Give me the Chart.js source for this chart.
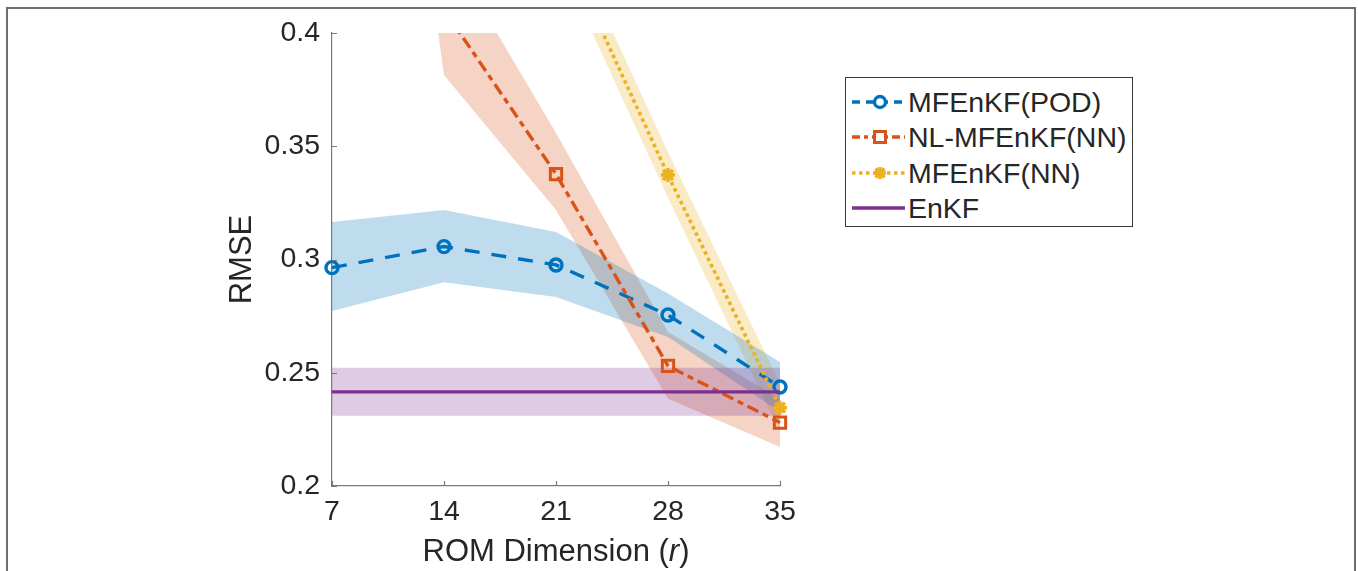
<!DOCTYPE html>
<html>
<head>
<meta charset="utf-8">
<script src="https://cdn.jsdelivr.net/npm/chart.js@4.4.1/dist/chart.umd.min.js"></script>
<style>
  html, body { margin: 0; padding: 0; background: #fff; overflow: hidden; }
  body { width: 1358px; height: 571px; position: relative; font-family: "Liberation Sans", Arial, Helvetica, sans-serif; }
  #frame { position: absolute; left: 6px; top: 7px; width: 1350px; height: 600px; box-sizing: border-box; border: 2px solid #6e6e6e; border-bottom: none; }
  #wrap { position: absolute; left: 0; top: 0; width: 1358px; height: 571px; }
  #xtitle { position: absolute; left: 556px; top: 551px; transform: translate(-50%, -50%); font-size: 31px; color: #262626; white-space: nowrap; }
  #legend { position: absolute; left: 845px; top: 77px; width: 288px; height: 150px; box-sizing: border-box; border: 1px solid #3a3a3a; background: #fff; }
  .row { position: absolute; left: 0; height: 36px; display: flex; align-items: center; }
  .row svg { position: absolute; left: 3px; top: 0; }
  .row span { position: absolute; left: 62px; font-size: 28.5px; color: #262626; white-space: nowrap; line-height: 36px; top: 0; }
</style>
</head>
<body>
<div id="frame"></div>
<div id="wrap"><canvas id="c" width="1358" height="571"></canvas></div>
<div id="xtitle">ROM Dimension (<i>r</i>)</div>
<div id="legend"></div>
<script>
// ---- data ----
const ranks = [7, 14, 21, 28, 35];
const yTicks = [0.2, 0.25, 0.3, 0.35, 0.4];
const seriesNames = ['MFEnKF(POD)', 'NL-MFEnKF(NN)', 'MFEnKF(NN)', 'EnKF'];

const podMean  = [0.2964, 0.3057, 0.2976, 0.2755, 0.2437];
const podUpper = [0.3166, 0.3219, 0.3121, 0.2850, 0.2547];
const podLower = [0.2773, 0.2900, 0.2834, 0.2658, 0.2327];

const nlMean  = [0.800, 0.4103, 0.3377, 0.2530, 0.2280];
const nlUpper = [0.860, 0.4396, 0.3558, 0.2680, 0.2385];
const nlLower = [0.738, 0.3815, 0.3219, 0.2385, 0.2172];

const nnMean  = [0.700, 0.560, 0.445, 0.3373, 0.2346];
const nnUpper = [0.710, 0.570, 0.455, 0.3473, 0.2452];
const nnLower = [0.690, 0.550, 0.435, 0.3273, 0.2236];

const enkfMean  = [0.2416, 0.2416, 0.2416, 0.2416, 0.2416];
const enkfUpper = [0.2522, 0.2522, 0.2522, 0.2522, 0.2522];
const enkfLower = [0.2310, 0.2310, 0.2310, 0.2310, 0.2310];

// ---- styles ----
const C_BLUE = '#0072BD', C_ORANGE = '#D95319', C_YELLOW = '#EDB120', C_PURPLE = '#7E2F8E';
const F_BLUE = 'rgba(0,114,189,0.25)', F_ORANGE = 'rgba(217,83,25,0.25)', F_YELLOW = 'rgba(237,177,32,0.25)', F_PURPLE = 'rgba(126,47,142,0.25)';
const FONT = '"Liberation Sans", Arial, Helvetica, sans-serif';
const TXT = '#262626';

const pts = arr => arr.map((v, i) => ({x: ranks[i], y: v}));

function band(upper, lower, fillColor) {
  return [
    { data: pts(upper), borderWidth: 0, borderColor: 'rgba(0,0,0,0)', backgroundColor: fillColor, fill: '+1', pointRadius: 0, order: 10, tension: 0 },
    { data: pts(lower), borderWidth: 0, borderColor: 'rgba(0,0,0,0)', backgroundColor: 'rgba(0,0,0,0)', fill: false, pointRadius: 0, order: 10, tension: 0 }
  ];
}
const lineClip = {left: 20, right: 20, top: 0, bottom: 20};

const datasets = [
  ...band(enkfUpper, enkfLower, F_PURPLE),
  ...band(podUpper, podLower, F_BLUE),
  ...band(nlUpper, nlLower, F_ORANGE),
  ...band(nnUpper, nnLower, F_YELLOW),
  { label: seriesNames[3], data: pts(enkfMean), borderColor: C_PURPLE, borderWidth: 3.2, pointRadius: 0, fill: false, order: 1, clip: lineClip },
  { label: seriesNames[2], data: pts(nnMean), borderColor: C_YELLOW, borderWidth: 3.6, borderDash: [3.6, 3.4], pointStyle: 'star', pointRadius: 7, pointBorderWidth: 3.5, pointBorderColor: C_YELLOW, pointBackgroundColor: C_YELLOW, fill: false, order: 1, clip: lineClip },
  { label: seriesNames[1], data: pts(nlMean), borderColor: C_ORANGE, borderWidth: 3.4, borderDash: [12, 5, 6, 5], pointStyle: 'rect', pointRadius: 8, pointBorderWidth: 3, pointBorderColor: C_ORANGE, pointBackgroundColor: 'rgba(0,0,0,0)', fill: false, order: 1, clip: lineClip },
  { label: seriesNames[0], data: pts(podMean), borderColor: C_BLUE, borderWidth: 3.4, borderDash: [15, 12], pointStyle: 'circle', pointRadius: 6, pointBorderWidth: 3.4, pointBorderColor: C_BLUE, pointBackgroundColor: 'rgba(0,0,0,0)', fill: false, order: 1, clip: lineClip }
];

// inward tick marks drawn from the library's scales
const inwardTicks = {
  id: 'inwardTicks',
  afterDatasetsDraw(chart) {
    const {ctx, chartArea, scales} = chart;
    ctx.save();
    ctx.strokeStyle = '#7a7a7a';
    ctx.lineWidth = 1.2;
    ctx.beginPath();
    scales.y.ticks.forEach(t => {
      const py = Math.round(scales.y.getPixelForValue(t.value)) + 0.5;
      ctx.moveTo(chartArea.left, py); ctx.lineTo(chartArea.left + 5, py);
    });
    scales.x.ticks.forEach(t => {
      const px = Math.round(scales.x.getPixelForValue(t.value)) + 0.5;
      ctx.moveTo(px, chartArea.bottom); ctx.lineTo(px, chartArea.bottom - 5);
    });
    ctx.stroke();
    ctx.restore();
  }
};

new Chart(document.getElementById('c'), {
  type: 'line',
  data: { datasets },
  options: {
    responsive: false,
    animation: false,
    events: [],
    layout: { padding: { left: 0, right: 578, top: 33, bottom: 0 } },
    plugins: { legend: { display: false }, tooltip: { enabled: false } },
    scales: {
      x: {
        type: 'linear', min: 7, max: 35,
        afterFit(s) { s.height = 85; },
        afterBuildTicks(s) { s.ticks = ranks.map(v => ({value: v})); },
        grid: { display: false, drawTicks: false },
        border: { display: true, color: '#7a7a7a', width: 1.2 },
        ticks: { padding: 9, color: TXT, font: { family: FONT, size: 28.5 }, maxRotation: 0, autoSkip: false, callback: v => String(v) }
      },
      y: {
        type: 'linear', min: 0.2, max: 0.4,
        afterFit(s) { s.width = 332; },
        afterBuildTicks(s) { s.ticks = yTicks.map(v => ({value: v})); },
        grid: { display: false, drawTicks: false },
        border: { display: true, color: '#7a7a7a', width: 1.2 },
        ticks: { padding: 12, color: TXT, font: { family: FONT, size: 28.5 }, autoSkip: false, callback: v => String(+v.toFixed(2)) },
        title: { display: true, text: 'RMSE', color: TXT, font: { family: FONT, size: 31 }, padding: { top: 224, bottom: 0 } }
      }
    }
  },
  plugins: [inwardTicks]
});

// legend (HTML), built from the series names and styles
const legendItems = [
  { name: seriesNames[0], color: C_BLUE, dash: '8,6', marker: 'circle' },
  { name: seriesNames[1], color: C_ORANGE, dash: '8,4,4,4', marker: 'rect' },
  { name: seriesNames[2], color: C_YELLOW, dash: '3.5,3.5', marker: 'star' },
  { name: seriesNames[3], color: C_PURPLE, dash: '', marker: 'none' }
];
const leg = document.getElementById('legend');
legendItems.forEach((it, i) => {
  const row = document.createElement('div');
  row.className = 'row';
  row.style.top = (6 + i * 35.3) + 'px';
  let m = '';
  const cx = 31, cy = 18;
  if (it.marker === 'circle') m = `<circle cx="${cx}" cy="${cy}" r="5.5" fill="white" stroke="${it.color}" stroke-width="3.4"/>`;
  if (it.marker === 'rect') m = `<rect x="${cx-5.5}" y="${cy-5.5}" width="11" height="11" fill="white" stroke="${it.color}" stroke-width="3"/>`;
  if (it.marker === 'star') m = `<g stroke="${it.color}" stroke-width="3.5"><line x1="${cx-6}" y1="${cy}" x2="${cx+6}" y2="${cy}"/><line x1="${cx}" y1="${cy-6}" x2="${cx}" y2="${cy+6}"/><line x1="${cx-4.5}" y1="${cy-4.5}" x2="${cx+4.5}" y2="${cy+4.5}"/><line x1="${cx-4.5}" y1="${cy+4.5}" x2="${cx+4.5}" y2="${cy-4.5}"/></g>`;
  row.innerHTML = `<svg width="58" height="36"><line x1="3" y1="${cy}" x2="56" y2="${cy}" stroke="${it.color}" stroke-width="3.4" ${it.dash ? `stroke-dasharray="${it.dash}"` : ''}/>${m}</svg><span>${it.name}</span>`;
  leg.appendChild(row);
});
</script>
</body>
</html>
